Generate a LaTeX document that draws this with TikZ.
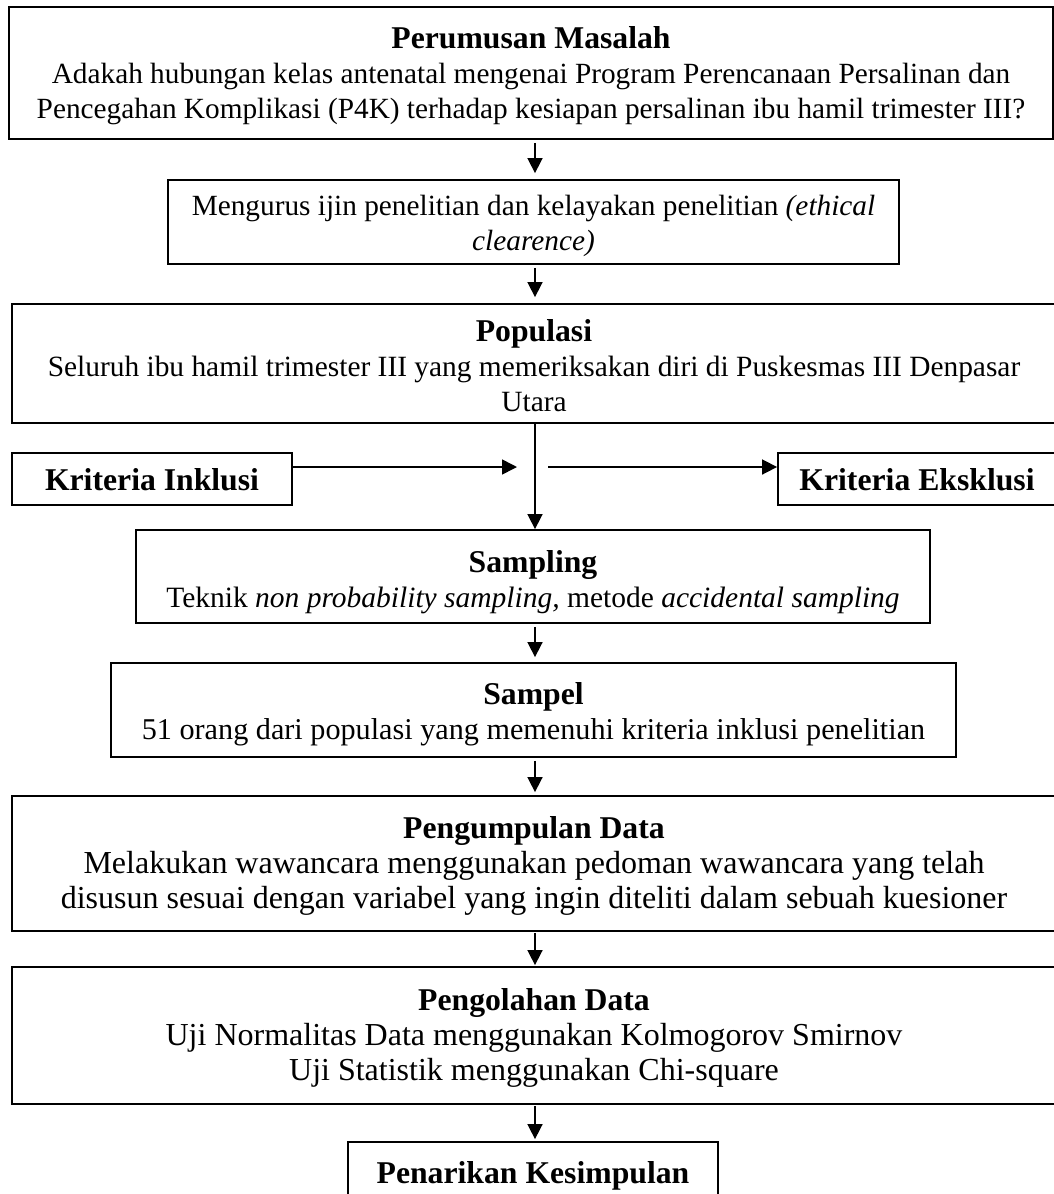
\documentclass[tikz,border=0pt]{standalone}
\usepackage{fontspec}
\setmainfont{Liberation Serif}
\usetikzlibrary{arrows.meta}
\newcommand\boxtext[2]{\raisebox{#1}[\height][\depth]{\begin{tabular}{@{}c@{}}#2\end{tabular}}}
\newcommand\ttl[1]{{\fontsize{31.7}{35}\selectfont\bfseries #1}}
\newcommand\bodyfs[1]{\fontsize{#1}{35}\selectfont}
\begin{document}
\begin{tikzpicture}[x=1pt,y=-1pt,
  box/.style={draw, line width=1.8pt, inner sep=0pt, align=center,
    font=\fontsize{32}{35}\selectfont},
  arr/.style={line width=1.6pt, -{Triangle[length=15pt,width=15pt]}}]
\useasboundingbox (0,0) rectangle (1054,1194);
\fill[white] (0,0) rectangle (1054,1194);
\coordinate (ax) at (535,0);

\node[box, minimum width=1044pt, minimum height=132pt] (perumusan) at (531,73)
  {\boxtext{-3pt}{\ttl{Perumusan Masalah}\\
   \bodyfs{29.3}Adakah hubungan kelas antenatal mengenai Program Perencanaan Persalinan dan\\
   \bodyfs{29.3}Pencegahan Komplikasi (P4K) terhadap kesiapan persalinan ibu hamil trimester III?}};

\node[box, minimum width=731pt, minimum height=84pt] (ijin) at (533.5,222)
  {\boxtext{-4pt}{\bodyfs{29.3}Mengurus ijin penelitian dan kelayakan penelitian \textit{(ethical}\\
   \bodyfs{29.3}\textit{clearence)}}};

\node[box, minimum width=1044pt, minimum height=119pt] (populasi) at (534,363.5)
  {\boxtext{-6pt}{\ttl{Populasi}\\
   \bodyfs{29.4}Seluruh ibu hamil trimester III yang memeriksakan diri di Puskesmas III Denpasar\\
   \bodyfs{29.4}Utara}};

\node[box, minimum width=280pt, minimum height=52pt] (inklusi) at (152,479)
  {\boxtext{-4pt}{\ttl{Kriteria Inklusi}}};
\node[box, minimum width=278pt, minimum height=52pt] (eksklusi) at (917,479)
  {\boxtext{-4pt}{\ttl{Kriteria Eksklusi}}};

\node[box, minimum width=794pt, minimum height=93pt] (sampling) at (533,576.5)
  {\boxtext{-6pt}{\ttl{Sampling}\\
   \bodyfs{29.5}Teknik \textit{non probability sampling,} metode \textit{accidental sampling}}};

\node[box, minimum width=845pt, minimum height=94pt] (sampel) at (533.5,710)
  {\boxtext{-5pt}{\ttl{Sampel}\\
   \bodyfs{30.2}51 orang dari populasi yang memenuhi kriteria inklusi penelitian}};

\node[box, minimum width=1044pt, minimum height=135pt] (pengumpulan) at (534,863.5)
  {\boxtext{-3pt}{\ttl{Pengumpulan Data}\\
   \bodyfs{32}Melakukan wawancara menggunakan pedoman wawancara yang telah\\
   \bodyfs{32}disusun sesuai dengan variabel yang ingin diteliti dalam sebuah kuesioner}};

\node[box, minimum width=1044pt, minimum height=137pt] (pengolahan) at (534,1035.5)
  {\boxtext{-3pt}{\ttl{Pengolahan Data}\\
   \bodyfs{32}Uji Normalitas Data menggunakan Kolmogorov Smirnov\\
   \bodyfs{32}Uji Statistik menggunakan Chi-square}};

\node[box, minimum width=370pt, minimum height=68pt] (penarikan) at (533,1176)
  {\boxtext{0pt}{\ttl{Penarikan Kesimpulan}}};

\coordinate (mL) at (517,467);
\coordinate (mR) at (548,467);

\draw[arr, shorten <=3pt, shorten >=6pt] (perumusan.south -| ax) -- (ijin.north -| ax);
\draw[arr, shorten <=3pt, shorten >=6pt] (ijin.south -| ax) -- (populasi.north -| ax);
\draw[arr] (populasi.south -| ax) -- (sampling.north -| ax);
\draw[arr] (inklusi.east |- mL) -- (mL);
\draw[arr] (mR) -- (eksklusi.west |- mR);
\draw[arr, shorten <=3pt, shorten >=5pt] (sampling.south -| ax) -- (sampel.north -| ax);
\draw[arr, shorten <=3pt, shorten >=3pt] (sampel.south -| ax) -- (pengumpulan.north -| ax);
\draw[arr, shorten <=1pt, shorten >=1pt] (pengumpulan.south -| ax) -- (pengolahan.north -| ax);
\draw[arr, shorten <=1pt, shorten >=2pt] (pengolahan.south -| ax) -- (penarikan.north -| ax);
\end{tikzpicture}
\end{document}
